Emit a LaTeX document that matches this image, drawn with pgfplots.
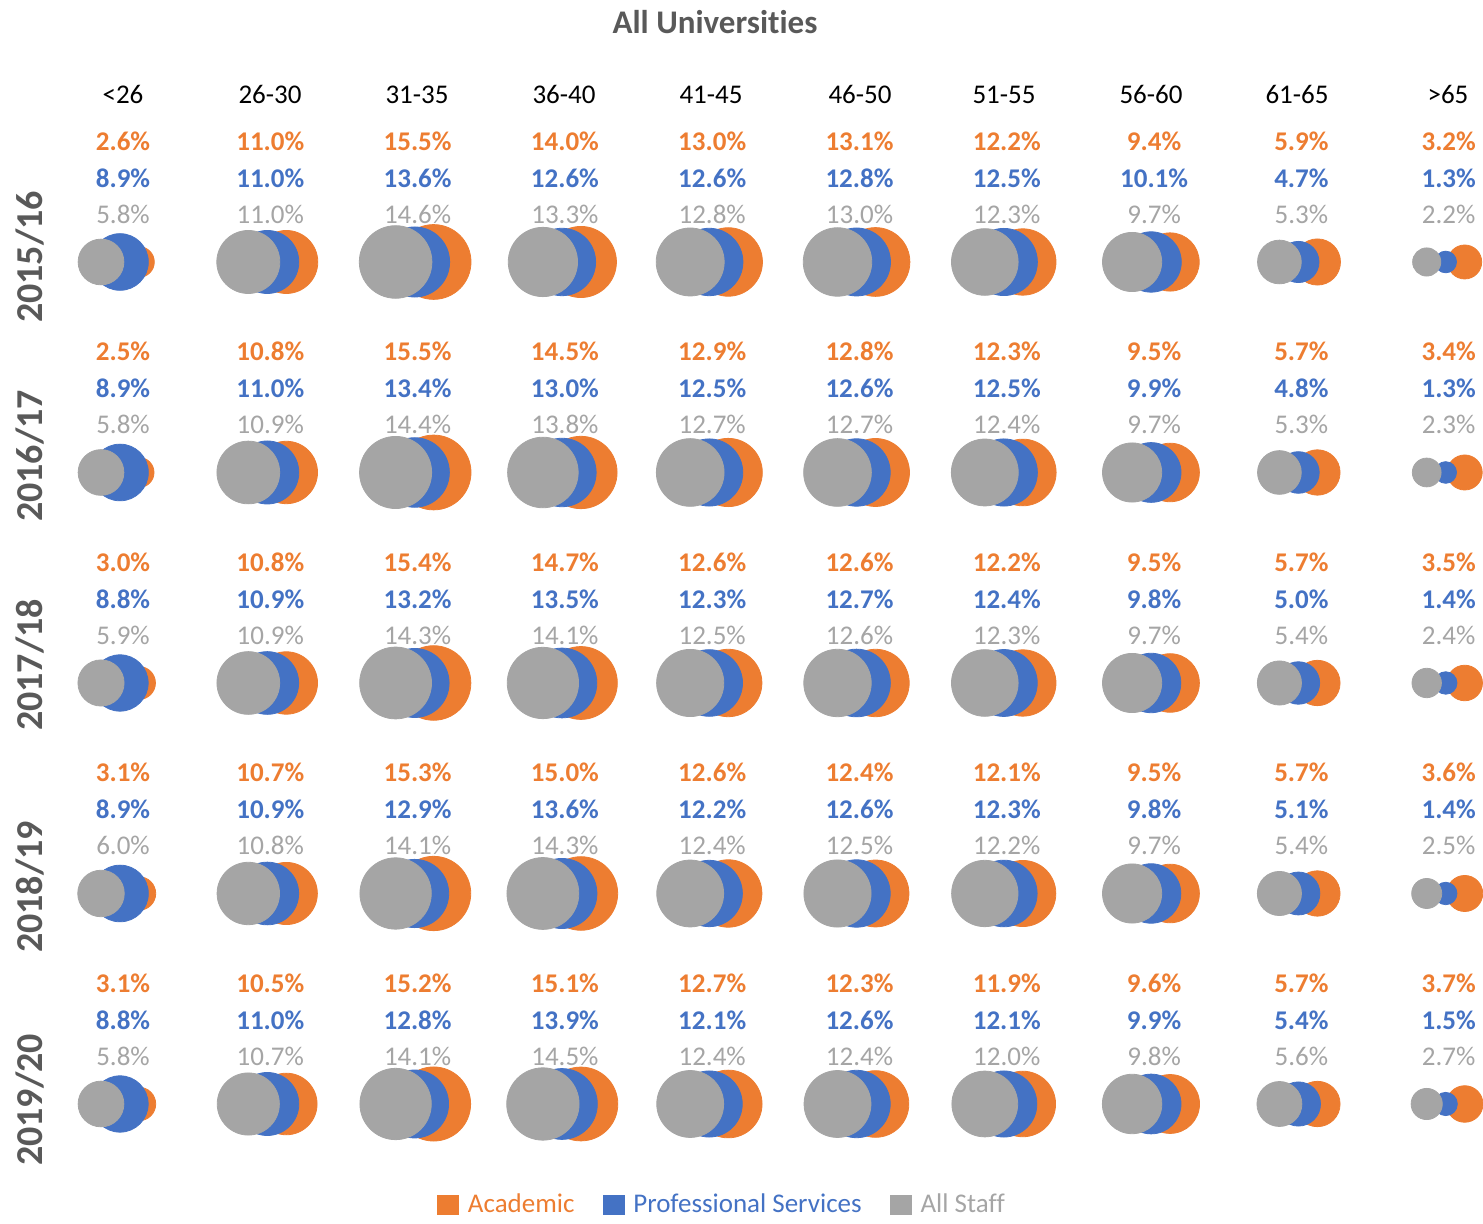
\documentclass[border=0pt]{standalone}
\usepackage{pgfplots}
\usepackage{pgfplotstable}
\usepackage{fontspec}
\setmainfont{Carlito}[Ligatures=NoCommon]
\pgfplotsset{compat=1.18}

\definecolor{acad}{HTML}{ED7D31}
\definecolor{prof}{HTML}{4472C4}
\definecolor{allst}{HTML}{A5A5A5}
\definecolor{txtgray}{HTML}{595959}

% c = age group (0 = <26 ... 9 = >65), r = year (0 = 2015/16 ... 4 = 2019/20)
% a = Academic, p = Professional Services, s = All Staff (share in %)
\pgfplotstableread{
c r a p s
0 0 2.6 8.9 5.8
1 0 11.0 11.0 11.0
2 0 15.5 13.6 14.6
3 0 14.0 12.6 13.3
4 0 13.0 12.6 12.8
5 0 13.1 12.8 13.0
6 0 12.2 12.5 12.3
7 0 9.4 10.1 9.7
8 0 5.9 4.7 5.3
9 0 3.2 1.3 2.2
0 1 2.5 8.9 5.8
1 1 10.8 11.0 10.9
2 1 15.5 13.4 14.4
3 1 14.5 13.0 13.8
4 1 12.9 12.5 12.7
5 1 12.8 12.6 12.7
6 1 12.3 12.5 12.4
7 1 9.5 9.9 9.7
8 1 5.7 4.8 5.3
9 1 3.4 1.3 2.3
0 2 3.0 8.8 5.9
1 2 10.8 10.9 10.9
2 2 15.4 13.2 14.3
3 2 14.7 13.5 14.1
4 2 12.6 12.3 12.5
5 2 12.6 12.7 12.6
6 2 12.2 12.4 12.3
7 2 9.5 9.8 9.7
8 2 5.7 5.0 5.4
9 2 3.5 1.4 2.4
0 3 3.1 8.9 6.0
1 3 10.7 10.9 10.8
2 3 15.3 12.9 14.1
3 3 15.0 13.6 14.3
4 3 12.6 12.2 12.4
5 3 12.4 12.6 12.5
6 3 12.1 12.3 12.2
7 3 9.5 9.8 9.7
8 3 5.7 5.1 5.4
9 3 3.6 1.4 2.5
0 4 3.1 8.8 5.8
1 4 10.5 11.0 10.7
2 4 15.2 12.8 14.1
3 4 15.1 13.9 14.5
4 4 12.7 12.1 12.4
5 4 12.3 12.6 12.4
6 4 11.9 12.1 12.0
7 4 9.6 9.9 9.8
8 4 5.7 5.4 5.6
9 4 3.7 1.5 2.7
}\shares

\newcommand{\pct}{\pgfmathprintnumber[fixed,fixed zerofill,precision=1,assume math mode=true]{\pgfplotspointmeta}\%}

\begin{document}
\begin{tikzpicture}
\begin{axis}[
    width=741.5pt, height=612pt, scale only axis,
    xmin=0, xmax=1483, ymin=-1224, ymax=0,
    hide axis, clip=false,
    legend columns=3,
    legend style={draw=none, fill=none, at={(rel axis cs:0.4875,0.0155)}, anchor=center,
        font=\fontsize{13.5}{16}\selectfont,
        /tikz/every even column/.append style={column sep=12pt}},
    bubble/.style={only marks, scatter, mark=*,
        scatter/use mapped color={draw=#1, fill=#1},
        scatter/@pre marker code/.append style={/tikz/mark size=\rad},
        legend image code/.code={\fill[#1] (0pt,-4.6pt) rectangle (10.5pt,5pt); \path (13pt,0pt);}},
    lbl/.style={draw=none, mark=none, forget plot, nodes near coords=\pct,
        nodes near coords style={anchor=center, text=#1}},
]
\path (axis cs:0,0) rectangle (axis cs:1483,-1224);

% bubbles: area proportional to the share; Academic at the back, All Staff in front
\addplot[bubble=acad, visualization depends on={4.75*sqrt(\thisrow{a}) \as \rad}, point meta=\thisrow{a}]
    table[x expr=120+147.3*\thisrow{c}+19, y expr=-262-210.5*\thisrow{r}] {\shares};
\addlegendentry{\textcolor{acad}{Academic}}
\addplot[bubble=prof, visualization depends on={4.75*sqrt(\thisrow{p}) \as \rad}, point meta=\thisrow{p}]
    table[x expr=120+147.3*\thisrow{c}, y expr=-262-210.5*\thisrow{r}] {\shares};
\addlegendentry{\textcolor{prof}{Professional Services}}
\addplot[bubble=allst, visualization depends on={4.75*sqrt(\thisrow{s}) \as \rad}, point meta=\thisrow{s}]
    table[x expr=120+147.3*\thisrow{c}-19, y expr=-262-210.5*\thisrow{r}] {\shares};
\addlegendentry{\textcolor{allst}{All Staff}}

% value labels above each group
\addplot[lbl=acad, point meta=\thisrow{a}, nodes near coords style={font=\bfseries\fontsize{13.5}{16}\selectfont}]
    table[x expr=123+147.3*\thisrow{c}, y expr=-141-210.5*\thisrow{r}] {\shares};
\addplot[lbl=prof, point meta=\thisrow{p}, nodes near coords style={font=\bfseries\fontsize{13.5}{16}\selectfont}]
    table[x expr=123+147.3*\thisrow{c}, y expr=-178-210.5*\thisrow{r}] {\shares};
\addplot[lbl=allst, point meta=\thisrow{s}, nodes near coords style={font=\fontsize{13.5}{16}\selectfont}]
    table[x expr=123+147.3*\thisrow{c}, y expr=-214-210.5*\thisrow{r}] {\shares};

% title
\node[font=\bfseries\fontsize{16.5}{20}\selectfont, text=txtgray] at (axis cs:715,-22) {All Universities};

% age group headers
\begin{scope}[every node/.style={font=\fontsize{13.5}{16}\selectfont, text=black}]
\node at (axis cs:123,-95) {<26};
\node at (axis cs:270,-95) {26-30};
\node at (axis cs:417,-95) {31-35};
\node at (axis cs:564,-95) {36-40};
\node at (axis cs:711,-95) {41-45};
\node at (axis cs:860,-95) {46-50};
\node at (axis cs:1004,-95) {51-55};
\node at (axis cs:1151,-95) {56-60};
\node at (axis cs:1297,-95) {61-65};
\node at (axis cs:1448,-95) {>65};
\end{scope}

% year labels
\begin{scope}[every node/.style={rotate=90, font=\bfseries\fontsize{19}{22}\selectfont, text=txtgray}]
\node at (axis cs:30,-257) {2015/16};
\node at (axis cs:30,-456) {2016/17};
\node at (axis cs:30,-665) {2017/18};
\node at (axis cs:30,-887) {2018/19};
\node at (axis cs:30,-1100) {2019/20};
\end{scope}
\end{axis}
\end{tikzpicture}
\end{document}
